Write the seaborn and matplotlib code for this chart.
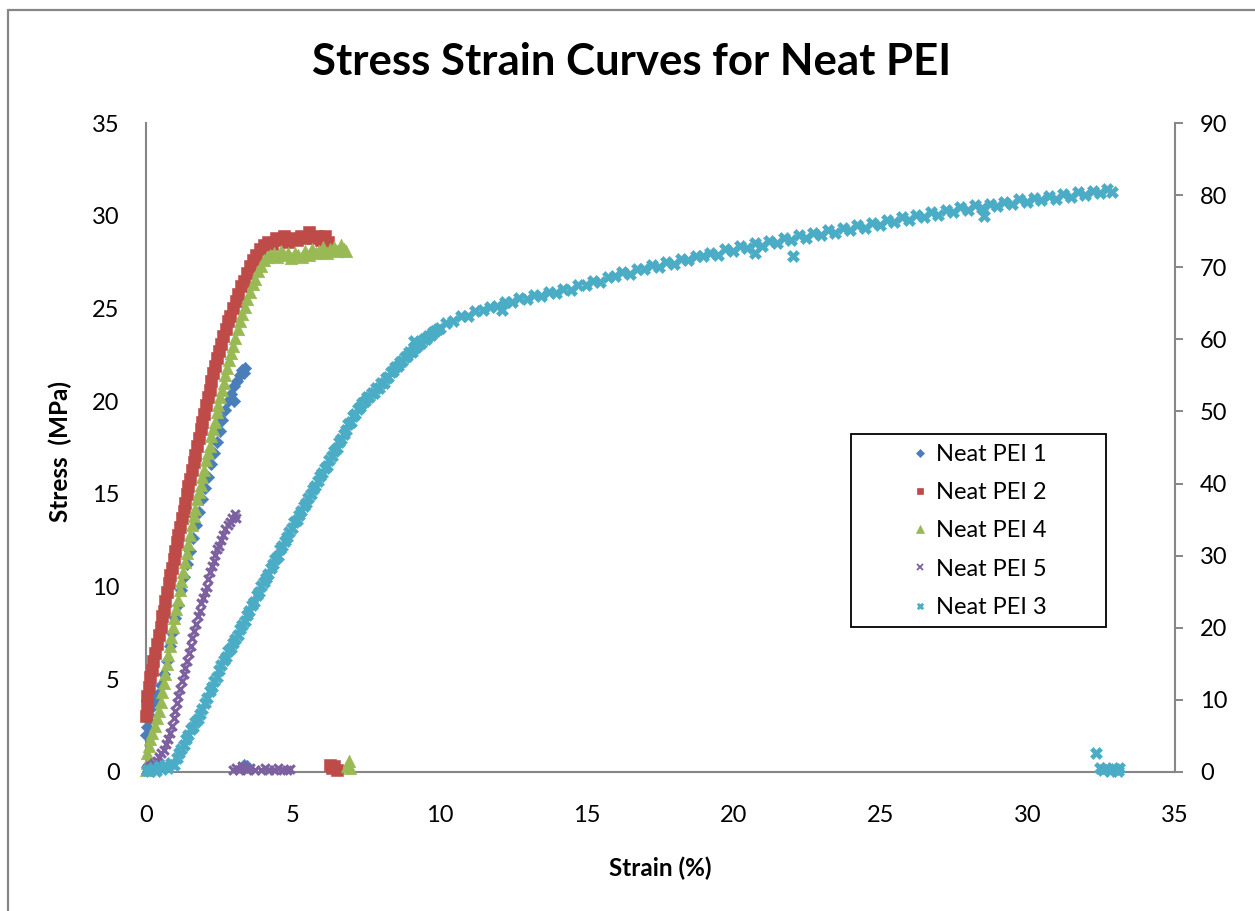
import numpy as np
import matplotlib
matplotlib.use("Agg")
import matplotlib.pyplot as plt
from matplotlib.lines import Line2D
from matplotlib.patches import Rectangle
import seaborn as sns

# ---------------- data ----------------
pei1_points = [  # Neat PEI 1 : strain (%), stress (MPa)
    (0.00, 2.0), (0.03, 2.4), (0.06, 2.8), (0.10, 3.1), (0.15, 3.4), (0.22, 3.7),
    (0.30, 3.9), (0.40, 4.2), (0.50, 4.7), (0.60, 5.3), (0.70, 6.0), (0.80, 6.8),
    (0.90, 7.5), (1.00, 8.3), (1.10, 9.0), (1.20, 9.8), (1.30, 10.5), (1.40, 11.2),
    (1.50, 11.9), (1.60, 12.6), (1.70, 13.3), (1.80, 14.0), (1.90, 14.7), (2.00, 15.3),
    (2.10, 15.9), (2.20, 16.6), (2.30, 17.2), (2.40, 17.8), (2.50, 18.4), (2.60, 19.0),
    (2.70, 19.5), (2.80, 20.0), (2.90, 20.4), (3.00, 20.0), (3.00, 20.8), (3.10, 21.1),
    (3.20, 21.4), (3.28, 21.7), (3.33, 21.5), (3.36, 21.8),
    (3.25, 0.2), (3.35, 0.4), (3.42, 0.3),
]

pei2_points = [  # Neat PEI 2
    (0.00, 3.0), (0.02, 3.6), (0.05, 4.1), (0.10, 4.6), (0.15, 5.1), (0.20, 5.5),
    (0.25, 6.0), (0.32, 6.4), (0.38, 6.9), (0.43, 7.4), (0.50, 7.8), (0.55, 8.4),
    (0.60, 8.7), (0.66, 9.2), (0.72, 9.7), (0.78, 10.2), (0.83, 10.6), (0.88, 11.0),
    (0.94, 11.5), (1.00, 11.9), (1.05, 12.4), (1.10, 12.8), (1.16, 13.2), (1.22, 13.7),
    (1.28, 14.1), (1.33, 14.5), (1.38, 15.0), (1.44, 15.4), (1.50, 15.8), (1.56, 16.3),
    (1.62, 16.7), (1.68, 17.1), (1.74, 17.6), (1.80, 18.0), (1.86, 18.5), (1.92, 18.9),
    (1.98, 19.3), (2.04, 19.8), (2.10, 20.2), (2.16, 20.6), (2.22, 21.1), (2.28, 21.5),
    (2.35, 21.9), (2.42, 22.3), (2.49, 22.7), (2.56, 23.1), (2.63, 23.5), (2.71, 23.9),
    (2.79, 24.3), (2.87, 24.6), (2.96, 25.0), (3.05, 25.4), (3.14, 25.8), (3.23, 26.2),
    (3.33, 26.5), (3.43, 26.9), (3.53, 27.3), (3.64, 27.6), (3.75, 27.9), (3.87, 28.2),
    (4.00, 28.4), (4.14, 28.6), (4.28, 28.5), (4.42, 28.8), (4.56, 28.7), (4.70, 28.9),
    (4.84, 28.6), (4.98, 28.8), (5.12, 28.7), (5.26, 28.9), (5.40, 28.8), (5.54, 29.1),
    (5.68, 28.8), (5.82, 28.9), (5.96, 28.7), (6.10, 28.9), (6.20, 28.6),
    (6.25, 0.4), (6.32, 0.2), (6.40, 0.3), (6.48, 0.1),
]

pei4_points = [  # Neat PEI 4
    (0.00, 0.1), (0.02, 0.5), (0.05, 1.0), (0.10, 1.4), (0.15, 1.8), (0.22, 2.1),
    (0.30, 2.5), (0.37, 2.9), (0.44, 3.3), (0.50, 3.8), (0.55, 4.3), (0.60, 4.8),
    (0.65, 5.3), (0.71, 5.8), (0.76, 6.3), (0.81, 6.8), (0.86, 7.3), (0.91, 7.8),
    (0.96, 8.3), (1.02, 8.8), (1.08, 9.3), (1.14, 9.8), (1.20, 10.3), (1.26, 10.8),
    (1.32, 11.3), (1.38, 11.8), (1.44, 12.3), (1.50, 12.8), (1.56, 13.3), (1.62, 13.8),
    (1.68, 14.2), (1.74, 14.7), (1.80, 15.1), (1.86, 15.5), (1.92, 15.9), (1.98, 16.3),
    (2.04, 16.8), (2.10, 17.2), (2.16, 17.6), (2.22, 18.1), (2.28, 18.5), (2.34, 18.9),
    (2.40, 19.4), (2.46, 19.8), (2.52, 20.2), (2.58, 20.6), (2.64, 21.0), (2.70, 21.4),
    (2.76, 21.8), (2.83, 22.2), (2.90, 22.6), (2.97, 23.0), (3.04, 23.4), (3.12, 23.9),
    (3.20, 24.3), (3.28, 24.7), (3.36, 25.1), (3.45, 25.5), (3.54, 25.9), (3.63, 26.3),
    (3.72, 26.6), (3.82, 27.0), (3.92, 27.3), (4.02, 27.6), (4.12, 27.8), (4.22, 27.9),
    (4.34, 28.0), (4.46, 27.8), (4.58, 28.1), (4.70, 27.9), (4.82, 28.0), (4.94, 27.7),
    (5.06, 28.0), (5.18, 27.9), (5.30, 27.8), (5.42, 28.1), (5.54, 27.9), (5.66, 28.2),
    (5.78, 28.0), (5.90, 28.1), (6.02, 28.3), (6.14, 28.0), (6.26, 28.2), (6.38, 28.3),
    (6.50, 28.1), (6.62, 28.4), (6.72, 28.2), (6.80, 28.1),
    (6.85, 0.3), (6.92, 0.6), (6.95, 0.2),
]

pei5_points = [  # Neat PEI 5
    (0.00, 0.1), (0.05, 0.2), (0.12, 0.3), (0.20, 0.4), (0.28, 0.5), (0.36, 0.6),
    (0.44, 0.8), (0.52, 1.0), (0.60, 1.2), (0.68, 1.5), (0.75, 1.8), (0.82, 2.1),
    (0.88, 2.5), (0.94, 2.9), (1.00, 3.3), (1.05, 3.7), (1.10, 4.1), (1.16, 4.5),
    (1.22, 4.9), (1.28, 5.3), (1.34, 5.6), (1.40, 6.0), (1.46, 6.4), (1.52, 6.8),
    (1.58, 7.2), (1.64, 7.6), (1.70, 8.0), (1.76, 8.4), (1.82, 8.7), (1.88, 9.1),
    (1.94, 9.4), (2.00, 9.7), (2.06, 10.0), (2.12, 10.4), (2.18, 10.8), (2.24, 11.1),
    (2.30, 11.4), (2.36, 11.7), (2.42, 12.0), (2.48, 12.2), (2.55, 12.5), (2.62, 12.8),
    (2.70, 13.1), (2.78, 13.3), (2.86, 13.5), (2.94, 13.7), (3.02, 13.9), (3.07, 13.7),
    (2.95, 0.1), (3.05, 0.2), (3.15, 0.1), (3.25, 0.3), (3.35, 0.2), (3.45, 0.1),
    (3.55, 0.2), (3.70, 0.1), (3.90, 0.1), (4.05, 0.2), (4.20, 0.1), (4.35, 0.1),
    (4.50, 0.2), (4.65, 0.1), (4.80, 0.1), (4.90, 0.15),
]

pei3_points = [  # Neat PEI 3 (secondary axis)
    (0.05, 0.3), (0.15, 0.1), (0.25, 0.6), (0.35, 0.2), (0.45, 0.8), (0.55, 0.4),
    (0.65, 1.0), (0.75, 0.6), (0.85, 1.3), (0.95, 1.0), (1.05, 2.0), (1.12, 2.6),
    (1.20, 3.2), (1.28, 3.8), (1.36, 4.6), (1.44, 5.2), (1.52, 5.9), (1.60, 6.3),
    (1.68, 7.0), (1.76, 7.4), (1.84, 8.1), (1.92, 8.8), (2.00, 9.6), (2.08, 10.2),
    (2.16, 11.2), (2.24, 11.8), (2.32, 12.6), (2.40, 13.2), (2.48, 14.1), (2.56, 14.8),
    (2.64, 15.5), (2.72, 16.0), (2.80, 16.8), (2.88, 17.2), (2.96, 17.9), (3.04, 18.5),
    (3.12, 19.0), (3.20, 19.8), (3.28, 20.4), (3.36, 21.0), (3.44, 21.8), (3.52, 22.3),
    (3.60, 23.1), (3.68, 23.6), (3.76, 24.5), (3.84, 25.0), (3.92, 25.8), (4.00, 26.3),
    (4.08, 26.9), (4.16, 27.4), (4.24, 28.3), (4.32, 28.8), (4.40, 29.5), (4.48, 30.0),
    (4.56, 30.9), (4.64, 31.4), (4.72, 32.1), (4.80, 32.6), (4.88, 33.3), (4.96, 33.8),
    (5.04, 34.6), (5.12, 35.0), (5.20, 35.7), (5.28, 36.2), (5.36, 36.9), (5.44, 37.3),
    (5.52, 38.0), (5.60, 38.6), (5.68, 39.2), (5.76, 39.7), (5.84, 40.3), (5.92, 41.0),
    (6.00, 41.4), (6.08, 42.1), (6.16, 42.5), (6.24, 43.3), (6.32, 43.8), (6.40, 44.5),
    (6.48, 45.0), (6.56, 45.8), (6.64, 46.2), (6.72, 46.9), (6.80, 47.4), (6.88, 48.2),
    (6.96, 48.6), (7.04, 49.3), (7.12, 49.6), (7.20, 50.3), (7.28, 50.6), (7.36, 51.2),
    (7.44, 51.5), (7.52, 52.0), (7.60, 52.0), (7.68, 52.5), (7.76, 52.6), (7.84, 53.2),
    (7.92, 53.3), (8.00, 53.9), (8.08, 54.0), (8.16, 54.7), (8.24, 54.8), (8.32, 55.5),
    (8.40, 55.6), (8.48, 56.2), (8.56, 56.3), (8.64, 56.9), (8.72, 57.0), (8.80, 57.6),
    (8.88, 57.7), (8.96, 58.2), (9.04, 58.3), (9.12, 58.8), (9.20, 58.9), (9.28, 59.4),
    (9.36, 59.5), (9.44, 60.0), (9.52, 60.1), (9.60, 60.5), (9.68, 60.6), (9.76, 61.0),
    (9.84, 61.1), (9.92, 61.5), (10.00, 61.6),
    (10.20, 62.3), (10.45, 62.6), (10.70, 63.2), (10.95, 63.3), (11.20, 63.9), (11.45, 64.0),
    (11.70, 64.5), (11.95, 64.6), (12.20, 65.2), (12.45, 65.2), (12.70, 65.7), (12.95, 65.6),
    (13.20, 66.1), (13.45, 66.0), (13.70, 66.5), (13.95, 66.4), (14.20, 67.0), (14.45, 66.9),
    (14.70, 67.5), (14.95, 67.6), (15.20, 68.1), (15.45, 68.0), (15.70, 68.7), (15.95, 68.8),
    (16.20, 69.3), (16.45, 69.1), (16.70, 69.8), (16.95, 69.7), (17.20, 70.3), (17.45, 70.1),
    (17.70, 70.7), (17.95, 70.5), (18.20, 71.1), (18.45, 71.0), (18.70, 71.5), (18.95, 71.5),
    (19.20, 72.0), (19.45, 71.7), (19.70, 72.5), (19.95, 72.3), (20.20, 72.9), (20.45, 72.6),
    (20.70, 73.3), (20.95, 73.0), (21.20, 73.7), (21.45, 73.4), (21.70, 74.1), (21.95, 73.8),
    (22.20, 74.5), (22.45, 74.1), (22.70, 74.8), (22.95, 74.5), (23.20, 75.1), (23.45, 74.8),
    (23.70, 75.5), (23.95, 75.2), (24.20, 75.8), (24.45, 75.5), (24.70, 76.2), (24.95, 75.9),
    (25.20, 76.6), (25.45, 76.3), (25.70, 77.0), (25.95, 76.6), (26.20, 77.3), (26.45, 77.0),
    (26.70, 77.6), (26.95, 77.3), (27.20, 78.0), (27.45, 77.6), (27.70, 78.3), (27.95, 77.9),
    (28.20, 78.6), (28.45, 78.2), (28.70, 78.8), (28.95, 78.5), (29.20, 79.1), (29.45, 78.7),
    (29.70, 79.4), (29.95, 79.0), (30.20, 79.6), (30.45, 79.3), (30.70, 79.9), (30.95, 79.5),
    (31.20, 80.1), (31.45, 79.8), (31.70, 80.4), (31.95, 80.0), (32.20, 80.6), (32.45, 80.3),
    (32.70, 80.9), (32.85, 80.5),
    (20.70, 72.0), (22.00, 71.6), (28.50, 77.1), (12.10, 64.0), (9.10, 59.8),
    (32.30, 2.6), (32.45, 0.5), (32.55, 0.3), (32.65, 0.6), (32.80, 0.2), (32.95, 0.4),
    (33.05, 0.1), (33.10, 0.6),
]

x_ticks = [0, 5, 10, 15, 20, 25, 30, 35]
y_ticks = [0, 5, 10, 15, 20, 25, 30, 35]
y2_ticks = [0, 10, 20, 30, 40, 50, 60, 70, 80, 90]

series_labels = ["Neat PEI 1", "Neat PEI 2", "Neat PEI 4", "Neat PEI 5", "Neat PEI 3"]
colors = ["#4A7EBB", "#BE4B48", "#98B954", "#7D60A0", "#4BACC6"]
markers = ["D", "s", "^", "x", "X"]

# ---------------- style ----------------
sns.set_theme(style="white")
plt.rcParams['font.family'] = ['Lato', 'DejaVu Sans']
plt.rcParams['text.color'] = 'black'
plt.rcParams['axes.labelcolor'] = 'black'
GRAY = "#868686"

W, H = 1255, 911
fig = plt.figure(figsize=(W / 100, H / 100), dpi=100)
left, right, top, bottom = 146, 1175, 123, 772
ax = fig.add_axes([left / W, 1 - bottom / H, (right - left) / W, (bottom - top) / H])
ax2 = ax.twinx()


def xy(points):
    a = np.array(points)
    return a[:, 0], a[:, 1]


primary = [pei1_points, pei2_points, pei4_points, pei5_points]
sizes = [40, 72, 82, 38]
for pts, lab, col, mk, s in zip(primary, series_labels[:4], colors[:4], markers[:4], sizes):
    x, y = xy(pts)
    if mk == "x":
        sns.scatterplot(x=x, y=y, ax=ax, marker=mk, s=s, color=col, linewidth=2.2,
                        clip_on=False, zorder=3)
    else:
        sns.scatterplot(x=x, y=y, ax=ax, marker=mk, s=s, color=col, edgecolor=col,
                        linewidth=0.4, clip_on=False, zorder=3)

x3, y3 = xy(pei3_points)
sns.scatterplot(x=x3, y=y3, ax=ax2, marker="X", s=78, color=colors[4], edgecolor=colors[4],
                linewidth=0.3, clip_on=False, zorder=3)

# ---------------- axes ----------------
ax.set_xlim(0, 35)
ax.set_ylim(0, 35)
ax2.set_ylim(0, 90)
ax.set_xticks(x_ticks)
ax.set_yticks(y_ticks)
ax2.set_yticks(y2_ticks)
ax.set_xticklabels([str(t) for t in x_ticks])
ax.set_yticklabels([str(t) for t in y_ticks])
ax2.set_yticklabels([str(t) for t in y2_ticks])

for a in (ax, ax2):
    for sp in a.spines.values():
        sp.set_visible(False)
    a.grid(False)
    a.set_facecolor("none")
ax.spines["left"].set_visible(True)
ax.spines["bottom"].set_visible(True)
ax2.spines["right"].set_visible(True)
for sp in (ax.spines["left"], ax.spines["bottom"], ax2.spines["right"]):
    sp.set_color(GRAY)
    sp.set_linewidth(1.5)

TICK_FS = 17
ax.tick_params(axis="y", length=0, pad=19, labelsize=TICK_FS, colors="black")
ax.tick_params(axis="x", length=0, pad=24, labelsize=TICK_FS, colors="black")
ax2.tick_params(axis="y", right=True, length=6, width=1.4, color=GRAY, direction="out",
                pad=12, labelsize=TICK_FS, labelcolor="black")

ax.set_xlabel("Strain (%)", fontsize=17.5, fontweight="bold", color="black")
ax.xaxis.label.set_va("center")
ax.xaxis.set_label_coords((660 - left) / (right - left), -(868 - bottom) / (bottom - top))
ax.set_ylabel("Stress  (MPa)", fontsize=17.5, fontweight="bold", color="black")
ax.yaxis.label.set_va("center")
ax.yaxis.set_label_coords(-(left - 60) / (right - left), (bottom - 451) / (bottom - top))

fig.text(632 / W, 1 - 62 / H, "Stress Strain Curves for Neat PEI", ha="center", va="center",
         fontsize=31.5, fontweight="bold", color="black")

# outer chart border
fig.add_artist(Line2D([8 / W, 8 / W], [0, 1 - 10 / H], color=GRAY, lw=1.6, transform=fig.transFigure))
fig.add_artist(Line2D([8 / W, 1], [1 - 10 / H, 1 - 10 / H], color=GRAY, lw=1.6, transform=fig.transFigure))

# ---------------- legend ----------------
def fx(px):
    return (px - left) / (right - left)


def fy(py):
    return (bottom - py) / (bottom - top)


box = Rectangle((fx(851), fy(627)), fx(1106) - fx(851), fy(434) - fy(627), transform=ax2.transAxes,
                facecolor="white", edgecolor="black", linewidth=1.3, zorder=9, clip_on=False)
ax2.add_patch(box)

handle_sizes = [4.5, 5, 5.5, 5, 5]
handles = []
for lab, col, mk, ms in zip(series_labels, colors, markers, handle_sizes):
    handles.append(Line2D([], [], ls="none", marker=mk, color=col, markersize=ms,
                          markeredgewidth=1.3 if mk == "x" else 0.5, label=lab))
leg = ax2.legend(handles=handles, loc="upper left",
                 bbox_to_anchor=(fx(908), fy(444)),
                 fontsize=17, frameon=False,
                 borderpad=0.0, labelspacing=0.73, handlelength=1.0, handletextpad=0.2,
                 borderaxespad=0)
leg.set_zorder(10)
for t in leg.get_texts():
    t.set_color("black")

fig.savefig("out.png", dpi=100)
